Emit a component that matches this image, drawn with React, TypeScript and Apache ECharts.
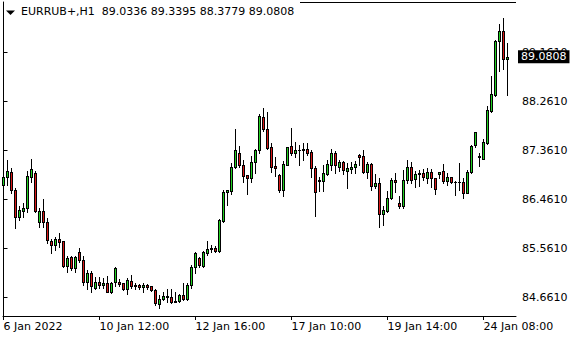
import React, { useEffect, useRef } from "react";
import * as echarts from "echarts";

const FONT = "DejaVu Sans";

const open = [
  86.72, 86.87, 86.97, 86.64, 86.14, 86.25, 86.31, 86.87, 86.94, 86.04,
  86.24, 86.04, 85.70, 85.62, 85.74, 85.70, 85.24, 85.40, 85.20, 85.49,
  85.35, 84.95, 85.10, 84.83, 84.94, 84.89, 84.92, 84.75, 84.94, 84.95,
  84.92, 84.82, 84.97, 84.86, 84.89, 84.85, 84.89, 84.86, 84.79, 84.54,
  84.63, 84.69, 84.66, 84.58, 84.59, 84.70, 84.63, 84.88, 85.21, 85.38,
  85.24, 85.47, 85.55, 85.57, 85.51, 86.07, 86.59, 86.62, 87.05, 87.32,
  87.10, 86.90, 86.86, 87.14, 87.37, 87.97, 87.75, 87.42, 87.07, 86.90,
  86.63, 87.10, 87.44, 87.32, 87.36, 87.37, 87.38, 87.33, 87.03, 86.80,
  86.79, 86.93, 87.10, 87.31, 87.06, 87.14, 86.99, 87.02, 87.06, 87.27,
  87.26, 86.97, 87.11, 86.71, 86.76, 86.19, 86.25, 86.48, 86.82, 86.40,
  86.33, 86.82, 87.06, 86.83, 86.92, 86.95, 86.86, 86.96, 86.85, 86.92,
  86.98, 86.80, 86.87, 86.78, 86.77, 86.77, 86.58, 86.96, 87.45, 87.24,
  87.21, 87.49, 88.09, 88.38, 89.36, 89.55, 89.0336,
];

const close = [
  86.87, 86.98, 86.64, 86.14, 86.26, 86.31, 86.89, 87.01, 86.25, 86.24,
  86.04, 85.71, 85.62, 85.74, 85.68, 85.24, 85.38, 85.20, 85.40, 85.35,
  84.95, 85.10, 84.86, 84.94, 84.89, 84.93, 84.76, 84.93, 85.20, 84.91,
  84.81, 84.98, 84.86, 84.89, 84.85, 84.89, 84.85, 84.79, 84.55, 84.63,
  84.69, 84.66, 84.58, 84.60, 84.70, 84.63, 84.88, 85.21, 85.47, 85.25,
  85.49, 85.54, 85.56, 85.52, 86.08, 86.59, 86.63, 87.05, 87.37, 87.10,
  86.89, 86.86, 87.15, 87.37, 87.99, 87.75, 87.40, 87.06, 87.04, 86.63,
  87.11, 87.42, 87.32, 87.37, 87.37, 87.38, 87.32, 87.04, 86.60, 86.81,
  86.94, 87.11, 87.32, 87.09, 87.14, 87.00, 87.04, 87.06, 87.11, 87.23,
  86.97, 87.11, 86.71, 86.76, 86.19, 86.26, 86.48, 86.82, 86.77, 86.34,
  86.82, 87.06, 86.82, 86.93, 86.95, 86.87, 86.96, 86.85, 86.65, 86.96,
  86.80, 86.87, 86.77, 86.77, 86.78, 86.58, 86.96, 87.44, 87.69, 87.25,
  87.51, 88.10, 88.39, 89.37, 89.55, 89.03, 89.0808,
];

const low = [
  86.39, 86.72, 86.57, 85.94, 86.08, 86.14, 86.23, 86.78, 86.22, 85.96,
  85.96, 85.66, 85.47, 85.53, 85.59, 85.21, 85.13, 85.17, 85.13, 85.31,
  84.89, 84.81, 84.76, 84.81, 84.83, 84.84, 84.75, 84.74, 84.86, 84.86,
  84.80, 84.73, 84.84, 84.82, 84.82, 84.76, 84.82, 84.78, 84.52, 84.46,
  84.61, 84.58, 84.56, 84.57, 84.57, 84.61, 84.62, 84.83, 85.11, 85.22,
  85.22, 85.44, 85.50, 85.50, 85.50, 86.05, 86.36, 86.56, 87.03, 87.06,
  86.77, 86.56, 86.77, 86.95, 87.32, 87.72, 87.38, 86.97, 86.89, 86.60,
  86.52, 87.09, 87.28, 87.24, 87.10, 87.18, 87.28, 86.88, 86.15, 86.62,
  86.62, 86.91, 87.00, 86.94, 86.99, 86.93, 86.67, 86.95, 86.94, 87.10,
  86.94, 86.85, 86.63, 86.66, 85.96, 85.99, 86.23, 86.46, 86.60, 86.31,
  86.31, 86.76, 86.76, 86.69, 86.70, 86.82, 86.76, 86.69, 86.56, 86.85,
  86.76, 86.72, 86.76, 86.54, 86.63, 86.48, 86.57, 86.94, 87.43, 87.07,
  87.20, 87.48, 88.07, 88.36, 88.81, 88.85, 88.3779,
];

const high = [
  87.00, 87.18, 87.03, 86.66, 86.34, 86.39, 86.99, 87.21, 86.99, 86.30,
  86.46, 86.11, 85.74, 85.76, 85.84, 85.70, 85.42, 85.42, 85.42, 85.57,
  85.42, 85.16, 85.15, 85.04, 85.03, 85.01, 85.05, 84.95, 85.22, 84.99,
  84.93, 85.01, 85.07, 84.93, 84.91, 84.92, 84.91, 84.87, 84.81, 84.70,
  84.76, 84.81, 84.81, 84.76, 84.73, 84.92, 84.92, 85.25, 85.50, 85.41,
  85.52, 85.70, 85.62, 85.61, 86.10, 86.63, 86.64, 87.13, 87.75, 87.44,
  87.18, 86.90, 87.26, 87.38, 88.03, 88.13, 88.07, 87.49, 87.24, 86.93,
  87.17, 87.43, 87.77, 87.52, 87.46, 87.50, 87.50, 87.37, 87.07, 86.87,
  87.09, 87.18, 87.38, 87.34, 87.18, 87.17, 87.12, 87.15, 87.17, 87.30,
  87.37, 87.14, 87.13, 86.93, 86.85, 86.34, 86.61, 86.85, 86.94, 86.52,
  87.00, 87.18, 87.15, 86.98, 87.00, 87.01, 87.03, 87.01, 86.86, 86.97,
  87.11, 86.94, 86.88, 86.79, 87.12, 86.85, 87.00, 87.46, 87.69, 87.31,
  87.57, 88.17, 88.73, 89.39, 89.68, 89.79, 89.3395,
];

const xTickIndex = [0, 24, 48, 72, 96, 120];
const xTickLabels = ["6 Jan 2022", "10 Jan 12:00", "12 Jan 16:00", "17 Jan 10:00", "19 Jan 14:00", "24 Jan 08:00"];
const yTicks = [84.661, 85.561, 86.461, 87.361, 88.261, 89.161];
const lastPrice = 89.0808;
const titleText = "EURRUB+,H1  89.0336 89.3395 88.3779 89.0808";

const BULL = "#22d022";
const BEAR = "#d81818";

export default function App() {
  const ref = useRef<HTMLDivElement>(null);
  useEffect(() => {
    if (!ref.current) return;
    const chart = echarts.init(ref.current, null, { renderer: "svg" });
    const data = open.map((o, i) => [i, o, close[i], low[i], high[i]]);
    const yMin = 84.318;
    const yMax = 90.085;
    const xMin = -0.125;
    const xMax = 128.125;

    const renderItem = (params: any, api: any) => {
      const x = api.value(0);
      const o = api.value(1);
      const c = api.value(2);
      const l = api.value(3);
      const h = api.value(4);
      const pO = api.coord([x, o]);
      const pC = api.coord([x, c]);
      const pL = api.coord([x, l]);
      const pH = api.coord([x, h]);
      const col = Math.floor(pO[0]);
      const top = Math.round(Math.min(pO[1], pC[1]));
      const bot = Math.round(Math.max(pO[1], pC[1]));
      const yHigh = Math.round(pH[1]);
      const yLow = Math.round(pL[1]);
      const children: any[] = [
        {
          type: "rect",
          shape: { x: col, y: yHigh, width: 1, height: yLow - yHigh + 1 },
          style: { fill: "#000" },
        },
        {
          type: "rect",
          shape: { x: col - 1, y: top, width: 3, height: bot - top + 1 },
          style: { fill: "#000" },
        },
      ];
      if (bot - top >= 2) {
        children.push({
          type: "rect",
          shape: { x: col, y: top + 1, width: 1, height: bot - top - 1 },
          style: { fill: c >= o ? BULL : BEAR },
        });
      }
      return { type: "group", children };
    };

    chart.setOption({
      animation: false,
      backgroundColor: "#ffffff",
      title: {
        text: titleText,
        left: 21,
        top: 6,
        padding: 0,
        textStyle: { fontFamily: FONT, fontSize: 11, fontWeight: "normal", color: "#000" },
      },
      graphic: [
        {
          type: "polygon",
          shape: { points: [[6, 10.5], [15, 10.5], [10.5, 15]] },
          style: { fill: "#000" },
        },
        {
          type: "rect",
          shape: { x: 3, y: 85, width: 1, height: 231 },
          style: { fill: "#000" },
        },
        {
          type: "rect",
          shape: { x: 300, y: 2, width: 216, height: 1 },
          style: { fill: "#000" },
        },
      ],
      grid: { left: 3, right: 64, top: 2, bottom: 24 },
      xAxis: {
        type: "value",
        min: xMin,
        max: xMax,
        axisLine: { show: true, lineStyle: { color: "#000", width: 1 } },
        axisTick: { show: true, length: 4, customValues: xTickIndex, lineStyle: { color: "#000" } },
        axisLabel: {
          customValues: xTickIndex,
          formatter: (v: number) => xTickLabels[xTickIndex.indexOf(Math.round(v))] ?? "",
          align: "left",
          color: "#000",
          fontFamily: FONT,
          fontSize: 11,
          margin: 5,
        },
        splitLine: { show: false },
      },
      yAxis: {
        type: "value",
        position: "right",
        min: yMin,
        max: yMax,
        axisLine: { show: true, lineStyle: { color: "#000" } },
        axisTick: { show: true, length: 4, customValues: yTicks, lineStyle: { color: "#000" } },
        axisLabel: {
          customValues: yTicks,
          formatter: (v: number) => v.toFixed(4),
          color: "#000",
          fontFamily: FONT,
          fontSize: 11,
          margin: 6,
        },
        splitLine: { show: false },
      },
      series: [
        {
          type: "custom",
          data,
          encode: { x: 0, y: [1, 2, 3, 4] },
          renderItem,
          clip: false,
          markLine: {
            silent: true,
            symbol: ["none", "none"],
            lineStyle: { color: "rgba(0,0,0,0)", width: 0, opacity: 1 },
            data: [{ yAxis: lastPrice }],
            label: {
              show: true,
              opacity: 1,
              position: "end",
              distance: 2,
              formatter: lastPrice.toFixed(4),
              backgroundColor: "#000",
              color: "#fff",
              padding: [1, 3, 1, 3],
              fontFamily: FONT,
              fontSize: 11,
            },
          },
        },
      ],
    });
    return () => chart.dispose();
  }, []);
  return <div ref={ref} style={{ position: "fixed", left: 0, top: 0, width: 580, height: 340 }} />;
}
